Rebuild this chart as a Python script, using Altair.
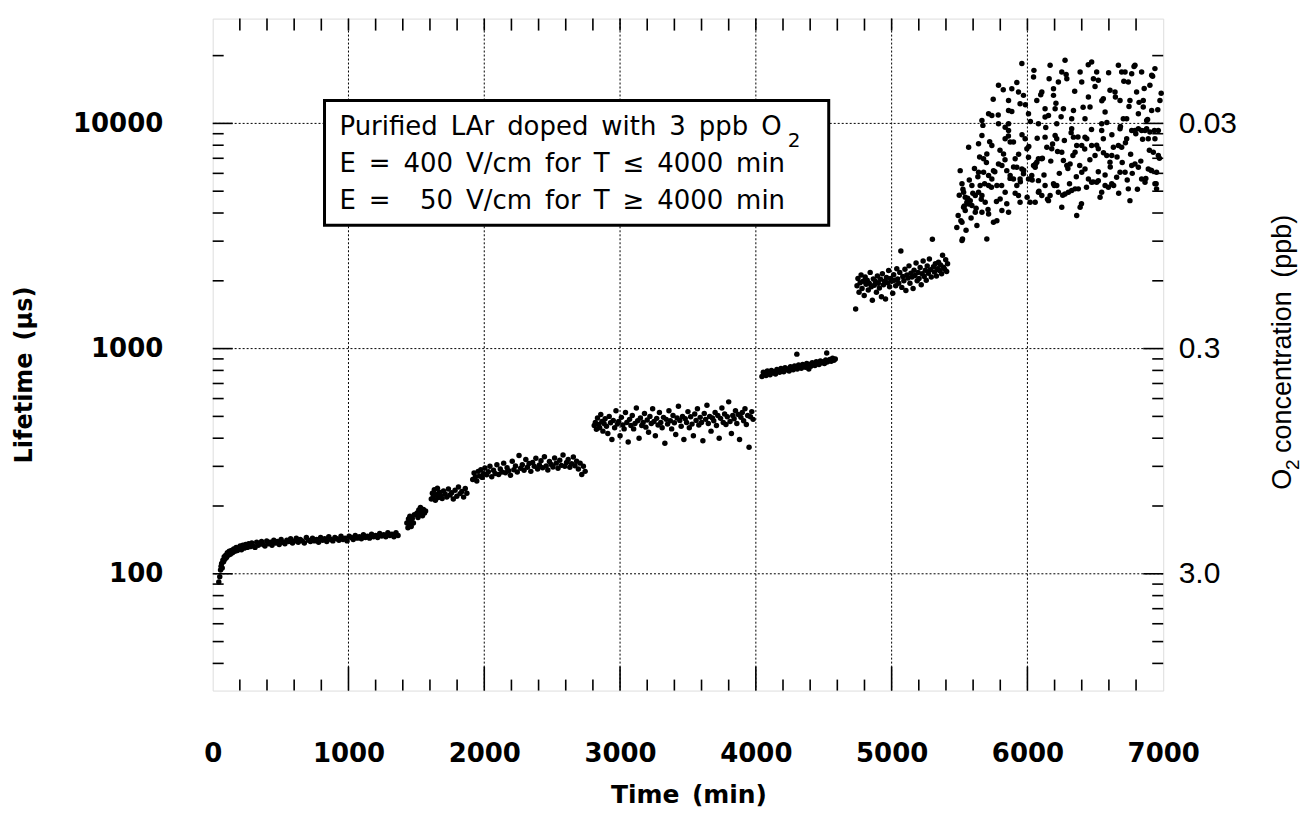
import altair as alt
import pandas as pd

# ---------------- data ----------------
# segment 1 : 0 - 1370 min
T1 = [45,52,58,62,66,70,75,80,85,90, 96,102,108,115,122,130,138,146,155,164,
      173,182,192,202,212,222,232,243,254,265, 276,288,300,312,324,336,348,360,372,385,
      398,411,424,437,450,463,476,490,504,518, 532,546,560,574,588,602,616,630,645,660,
      675,690,705,720,735,750,765,780,795,810, 825,840,855,870,885,900,915,930,945,960,
      975,990,1005,1020,1035,1050,1065,1080,1095,1110, 1125,1140,1155,1170,1185,1200,1215,1230,1245,1260,
      1275,1290,1305,1320,1335,1350,1365]
L1 = [92,97,104,108,111,106,115,113,119,116, 121,118,124,121,126,122,127,124,129,126,
      131,127,130,133,128,134,130,135,131,136, 132,137,133,131,138,134,136,139,135,133,
      140,136,138,134,141,137,139,135,142,138, 136,141,139,143,137,140,144,138,142,140,
      137,145,141,139,144,140,142,138,145,141, 143,139,146,142,140,145,143,141,147,142,
      144,140,147,145,142,148,144,146,143,149, 145,147,144,150,146,148,145,151,147,149,
      146,152,148,150,146,152,148]
# segment 2
T2 = [1430,1438,1442,1448,1452,1458,1462,1470,1478,1485,1505,1512,1518,1524,1530,1538,1545,1552,1560,1568]
L2 = [168,160,175,165,180,170,162,176,168,183,186,178,192,183,197,188,181,193,186,190]
# segment 3
T3 = [1610,1618,1625,1632,1640,1648,1655,1662,1670,1680, 1690,1700,1712,1724,1736,1748,1760,1772,1785,1798,
      1810,1822,1835,1848,1860,1872]
L3 = [215,228,220,236,212,225,240,218,230,222, 216,233,226,219,238,224,229,215,235,221,
      243,227,232,219,239,228]
# segment 4
T4 = [1915,1925,1935,1945,1955,1965,1975,1985,1995,2005, 2018,2030,2042,2055,2068,2080,2093,2106,2118,2130,
      2143,2156,2168,2180,2193,2206,2218,2230,2243,2256, 2268,2280,2293,2306,2318,2330,2343,2356,2368,2380,
      2393,2406,2418,2430,2443,2456,2468,2480,2493,2506, 2518,2530,2543,2556,2568,2580,2593,2606,2618,2630,
      2643,2656,2668,2680,2693,2706,2718,2730,2743]
L4 = [262,280,270,258,285,272,290,268,278,295, 275,284,300,270,288,279,305,276,292,283,
      310,281,296,287,274,316,290,301,283,335, 294,305,288,322,297,309,285,312,300,326,
      292,304,318,296,331,301,289,315,306,298, 327,310,294,319,303,337,300,312,322,297,
      308,330,302,316,292,310,276,300,285]
# segment 5
T5 = [2810,2818,2826,2834,2842,2850,2858,2866,2874,2882,
      2890,2900,2910,2920,2930,2940,2950,2960,2970,2980,
      2990,3000,3010,3020,3030,3040,3050,3060,3070,3080,
      3090,3100,3110,3120,3130,3140,3150,3160,3170,3180,
      3190,3200,3210,3220,3230,3240,3250,3260,3270,3280,
      3290,3300,3310,3320,3330,3340,3350,3360,3370,3380,
      3390,3400,3410,3420,3430,3440,3450,3460,3470,3480,
      3490,3500,3510,3520,3530,3540,3550,3560,3570,3580,
      3590,3600,3610,3620,3630,3640,3650,3660,3670,3680,
      3690,3700,3710,3720,3730,3740,3750,3760,3770,3780,
      3790,3800,3810,3820,3830,3840,3850,3860,3870,3880,
      3890,3900,3910,3920,3930,3940,3950,3960,3970,3980]
L5 = [455,470,438,492,460,445,510,475,430,465,
      488,452,420,500,468,395,480,445,530,462,
      475,410,495,458,440,520,470,385,485,455,
      505,440,465,545,478,400,492,455,470,515,
      448,482,425,500,465,540,475,410,490,458,
      520,470,445,495,380,485,462,530,478,440,
      505,468,415,492,555,480,452,500,395,488,
      470,525,445,498,462,410,512,480,540,458,
      495,470,390,515,485,560,465,500,430,492,
      478,520,455,505,400,490,545,470,512,460,
      498,580,475,420,505,488,530,465,510,395,
      495,520,478,540,460,505,365,498,525,485]
# segment 6
T6 = [4045,4055,4065,4075,4085,4095,4105,4115,4125,4135, 4145,4155,4165,4175,4185,4195,4205,4215,4225,4235,
      4245,4255,4265,4275,4285,4295,4305,4315,4325,4335, 4345,4355,4365,4375,4385,4395,4405,4415,4425,4435,
      4445,4455,4465,4475,4485,4495,4505,4515,4525,4535, 4545,4555,4565,4575,4585, 4302,4522,4390,4735]
L6 = [752,785,770,760,795,778,766,800,782,790, 772,808,795,785,815,800,790,822,805,812,
      796,830,815,805,838,820,812,845,828,818, 850,836,826,858,842,850,834,866,852,842,
      874,860,850,880,866,875,858,890,872,882, 895,878,905,888,900, 945,956,812,1500]
# segment 7
T7 = [4745,4752,4760,4768,4775,4782,4790,4798,4805,4812,
      4820,4828,4835,4842,4850,4858,4865,4872,4880,4888,
      4895,4902,4910,4918,4925,4932,4940,4948,4955,4962,
      4970,4978,4985,4992,5000,5008,5015,5022,5030,5038,
      5045,5052,5060,5068,5075,5082,5090,5098,5105,5112,
      5120,5128,5135,5142,5150,5158,5165,5172,5180,5188,
      5195,5202,5210,5218,5225,5232,5240,5248,5255,5262,
      5270,5278,5285,5292,5300,5308,5315,5322,5330,5338,
      5345,5352,5360,5368,5375,5382,5390,5398,5405,5412]
L7 = [1900,2050,1780,1960,2120,1850,1990,1720,2080,1930,
      2010,1820,1950,2180,1880,1640,2040,1910,1990,1780,
      2100,1950,1860,2030,1700,2150,1920,1990,1660,2070,
      1960,2220,1880,2050,1990,1760,2130,2010,1900,2260,
      2040,1950,2180,2710,1870,2090,2000,2250,1810,2120,
      2060,2330,1950,2160,2080,1850,2230,2110,2400,2000,
      2180,2050,2290,1920,2150,2450,2090,2230,2010,2330,
      2160,2500,2240,2080,3060,2310,2190,2380,2100,2260,
      2420,2220,2350,2150,2600,2300,2250,2480,2200,2380]
# segment 8 : after 5500 min, wide scatter
T8 = [5505,5518,5530,5542,5554,5567,5579,5591,5530,5542,
      5518,5522,5518,5616,5628,5701,5591,5640,5665,5652,
      5616,5665,5714,5750,5775,5567,5640,5665,5677,5701,
      5714,5738,5750,5775,5799,5812,5836,5861,5873,5787,
      5824,5836,5861,5873,5897,5910,5922,5934,5946,5959,
      5971,5983,5996,6008,6020,6057,6045,6069,6081,6081,
      6106,6130,6155,6167,6192,6216,6228,6253,6277,6302,
      6326,6351,6375,6388,6363,6400,6424,6449,6473,6510,
      6522,6547,6572,6596,6621,6657,6682,6719,6743,6755,
      6768,6792,6817,6841,6866,6890,6915,6951,6964,6939,
      6902,6878,6841,6792,6731,6694,6670,6633,6621,6608,
      6584,6559,6522,6498,6473,6437,6424,6400,6363,6339,
      6351,6314,6290,6265,6253,6216,6204,6179,6143,6130,
      6106,6081,6057,6032,6008,5946,5922,5897,5848,5812,
      5738,5714,5689,5677,5640,
      5787,5885,5934,5971,5946,5861,5861,5714,5738,5665,
      5787,5836,5861,5959,6045,6069,6106,6130,6155,6167,
      6192,6192,6204,6216,6228,6253,6265,6277,6290,6326,
      6339,6388,6400,6424,6449,6461,6473,6486,6510,6522,
      6547,6559,6572,6608,6645,6670,6682,6694,6719,6731,
      6743,6755,6768,6792,6804,6817,6841,6853,6853,6878,
      6902,6915,6915,6939,6976,6964,6682,6706,6547,6326,
      6008,6081,6130,6817,6866,6890,6768,6939,6927,6951]
L8 = [6170,5390,4950,4700,4470,4390,4540,4320,4240,4100,
      3640,3070,3020,4030,3520,3070,5300,4950,4780,5300,
      4780,4030,3960,3640,3700,7840,8120,8840,6960,7320,
      5870,7980,6170,5300,4620,4100,4950,4030,5870,6610,
      7320,8540,9300,8260,8260,6960,6390,4780,4470,6280,
      5970,8540,7710,7080,4470,4470,6500,6730,5570,4950,
      4780,5300,4540,4780,5390,5300,4950,4240,4860,4950,
      5030,5120,5120,4240,3900,6070,6280,5670,5480,5480,
      5570,4950,5300,5210,5390,5770,6070,6070,5120,4540,
      6500,6610,6390,5670,5480,6280,6170,6070,7200,8540,
      9150,9460,9300,9300,8540,7840,7980,7840,7200,6730,
      7200,8540,7710,7200,7980,8540,8690,7980,7980,8690,
      7450,6610,6500,6840,7450,8540,8840,7710,7840,8690,
      6960,6960,6390,5870,5670,5670,5300,5670,6170,6500,
      5670,5300,4470,6070,6070,
      14760,14260,13780,13320,12230,12650,11420,11040,10850,10310,
      9960,9620,9960,18430,16070,12650,13780,11620,10850,18120,
      14260,13320,11620,9960,15270,16920,11620,19070,15800,10490,
      11420,16920,15270,10490,13090,11820,18750,15800,16920,15530,
      9300,12870,11230,14020,13780,18120,12650,16920,16920,10490,
      15270,12650,16630,18120,13780,11040,16920,12650,11820,10310,
      14760,16350,11420,17510,12650,9300,9460,10490,9960,9460,
      11040,9960,10670,9460,9300,8540,9300,5390,7450,5120]
T8B = [5480,5490,5498,5510,5525,5535,5548,5560,5572,5585,
       5598,5610,5622,5635,5648,5660,5672,5685,5698,5710,
       5722,5735,5748,5760,5772,5785,5798,5810,5822,5835,
       5848,5860,5872,5885,5898,5910,5922,5935,5948,5960,
       5972,5985,5998,6010,6022,6035,6048,6060,6072,6085,
       6098,6110,6122,6135,6148,6160,6172,6185,6198,6210,
       6222,6235,6248,6260,6272,6285,6298,6310,6322,6335,
       6348,6360,6372,6385,6398,6410,6422,6435,6448,6460,
       6472,6485,6498,6510,6522,6535,6548,6560,6572,6585,
       6598,6610,6622,6635,6648,6660,6672,6685,6698,6710,
       6722,6735,6748,6760,6772,6785,6798,6810,6822,6835,
       6848,6860,6872,6885,6898,6910,6922,6935,6948,6960,
       6972,6985]
L8B = [3450,3900,4800,3700,5100,4300,3350,4650,5600,3800,
       4900,6300,4200,5800,7100,4600,9800,5400,6700,4150,
       8300,5200,12800,6100,4500,10900,7600,5300,14100,6900,
       4400,8800,5700,11300,6400,4900,15200,7300,5500,8900,
       6200,12100,4700,7900,10200,5600,17200,6600,8600,5000,
       13400,7000,5900,9600,4600,15800,6800,8100,5300,12300,
       7500,6000,10700,4800,8400,16500,6300,5400,9100,7200,
       13900,5800,8700,6500,4400,11800,7700,5200,18200,6900,
       9400,5500,14600,8000,6100,4700,12600,7400,5900,10100,
       16800,6400,8900,5300,13100,7100,4900,9700,6700,15400,
       8200,5600,11900,7300,6000,17900,9000,5100,12400,6800,
       8500,14300,5700,10400,7600,6200,16200,9300,5400,11500,
       7000,13600]

SEGMENTS = [(T1, L1), (T2, L2), (T3, L3), (T4, L4), (T5, L5), (T6, L6), (T7, L7),
            (T8, L8), (T8B, L8B)]
for _t, _l in SEGMENTS:
    assert len(_t) == len(_l), (len(_t), len(_l))

TIME = [t for seg in SEGMENTS for t in seg[0]]
LIFETIME = [v for seg in SEGMENTS for v in seg[1]]

X_LABELS = [0, 1000, 2000, 3000, 4000, 5000, 6000, 7000]
X_MAJOR = [1000, 2000, 3000, 4000, 5000, 6000]
X_MINOR = [200, 400, 600, 800, 1200, 1400, 1600, 1800, 2200, 2400, 2600, 2800,
           3200, 3400, 3600, 3800, 4200, 4400, 4600, 4800, 5200, 5400, 5600, 5800,
           6200, 6400, 6600, 6800]
Y_LABELS = [100, 1000, 10000]
Y_MINOR = [40, 50, 60, 70, 80, 90, 200, 300, 400, 500, 600, 700, 800, 900,
           2000, 3000, 4000, 5000, 6000, 7000, 8000, 9000, 20000]
CONC_LABELS = [0.03, 0.3, 3.0]

BOX_LINES = [
    "Purified\u2002LAr\u2002doped\u2002with\u20023\u2002ppb\u2002O",
    "E\u2002=\u2002400\u2002V/cm\u2002for\u2002T\u2002\u2264\u20024000\u2002min",
    "E\u2002=\u2002\u200750\u2002V/cm\u2002for\u2002T\u2002\u2265\u20024000\u2002min",
]

# ---------------- chart ----------------
W, H = 952, 673
xs = alt.Scale(domain=[0, 7000], nice=False, zero=False)
ys = alt.Scale(type="log", domain=[30.3, 29200], nice=False)
cs = alt.Scale(type="log", domain=[0.010274, 9.901], nice=False, reverse=True)

BOLD = dict(labelFont="DejaVu Sans", labelFontWeight="bold", labelFontSize=26,
            labelColor="black", ticks=False, tickSize=0, domain=False, grid=False,
            title=None, labelOverlap=False)
AX_X = alt.Axis(values=X_LABELS, format="d", labelPadding=50, labelFlush=False, **BOLD)
AX_Y = alt.Axis(values=Y_LABELS, format="d", labelPadding=50, **BOLD)

xq = alt.X("t:Q", scale=xs, axis=AX_X)
yq = alt.Y("L:Q", scale=ys, axis=AX_Y)

pts = pd.DataFrame({"t": TIME, "L": LIFETIME})
points = alt.Chart(pts).mark_circle(size=30, color="black", opacity=1).encode(x=xq, y=yq)

DOT = dict(color="black", strokeWidth=1, strokeDash=[2, 2])
hgrid = alt.Chart(pd.DataFrame({"L": Y_LABELS})).mark_rule(**DOT).encode(y=yq)
vgrid = alt.Chart(pd.DataFrame({"t": X_MAJOR})).mark_rule(**DOT).encode(x=xq)

TK = dict(color="black", strokeWidth=1.6)
xmin_df = pd.DataFrame({"t": X_MINOR})
xmaj_df = pd.DataFrame({"t": X_MAJOR})
ymin_df = pd.DataFrame({"L": Y_MINOR})
ymaj_df = pd.DataFrame({"L": Y_LABELS})

tick_layers = [
    alt.Chart(xmin_df).mark_rule(**TK).encode(x=xq, y=alt.value(H), y2=alt.value(H - 11)),
    alt.Chart(xmaj_df).mark_rule(**TK).encode(x=xq, y=alt.value(H), y2=alt.value(H - 24)),
    alt.Chart(xmin_df).mark_rule(**TK).encode(x=xq, y=alt.value(0), y2=alt.value(12)),
    alt.Chart(xmaj_df).mark_rule(**TK).encode(x=xq, y=alt.value(0), y2=alt.value(12)),
    alt.Chart(ymin_df).mark_rule(**TK).encode(y=yq, x=alt.value(0), x2=alt.value(11)),
    alt.Chart(ymaj_df).mark_rule(**TK).encode(y=yq, x=alt.value(0), x2=alt.value(20)),
    alt.Chart(ymin_df).mark_rule(**TK).encode(y=yq, x=alt.value(W), x2=alt.value(W - 11)),
]

one = pd.DataFrame({"k": [0]})
box = alt.Chart(one).mark_rect(fill="white", stroke="black", strokeWidth=3).encode(
    x=alt.value(112), x2=alt.value(617), y=alt.value(82), y2=alt.value(207))

def txt(s, x, y, size, weight="normal", font="DejaVu Sans", angle=0, align="left", baseline="alphabetic"):
    return alt.Chart(one).mark_text(
        text=s, font=font, fontSize=size, fontWeight=weight, angle=angle,
        align=align, baseline=baseline, color="black"
    ).encode(x=alt.value(x), y=alt.value(y))

texts = [
    txt(BOX_LINES[0], 127, 117, 26),
    txt("2", 576, 129, 20),
    txt(BOX_LINES[1], 127, 154, 26),
    txt(BOX_LINES[2], 127, 191, 26),
    txt("Lifetime\u2002(\u00b5s)", -188, 357, 24, weight="bold", angle=270,
        align="center", baseline="middle"),
    txt("Time\u2002(min)", 477, 778, 25, weight="bold", align="center", baseline="middle"),
    # right-hand title, drawn upward: "O", subscript "2", then the rest
    txt("O", 1072, 472, 27, font="Liberation Sans", angle=270, align="left", baseline="middle"),
    txt("2", 1082, 452, 19, font="Liberation Sans", angle=270, align="left", baseline="middle"),
    txt("concentration\u2002(ppb)", 1072, 435, 27, font="Liberation Sans", angle=270,
        align="left", baseline="middle"),
]

main = alt.layer(points, hgrid, vgrid, *tick_layers, box, *texts)

conc = alt.Chart(pd.DataFrame({"c": CONC_LABELS})).mark_rule(**TK).encode(
    y=alt.Y("c:Q", scale=cs, axis=alt.Axis(
        orient="right", values=CONC_LABELS,
        labelExpr="datum.value > 1 ? '3.0' : (datum.value > 0.1 ? '0.3' : '0.03')",
        labelFont="Liberation Sans", labelFontSize=30, labelColor="black", labelPadding=15,
        ticks=False, tickSize=0, domain=False, grid=False, title=None)),
    x=alt.value(W), x2=alt.value(W - 20),
)

chart = alt.layer(main, conc).resolve_scale(y="independent").properties(
    width=W, height=H,
    padding={"left": 205, "top": 10, "right": 140, "bottom": 118},
    autosize=alt.AutoSizeParams(type="none"),
).configure_view(stroke="black", strokeWidth=2.5).configure(background="white")

chart.save("out.html", embed_options={"renderer": "svg", "actions": False})
